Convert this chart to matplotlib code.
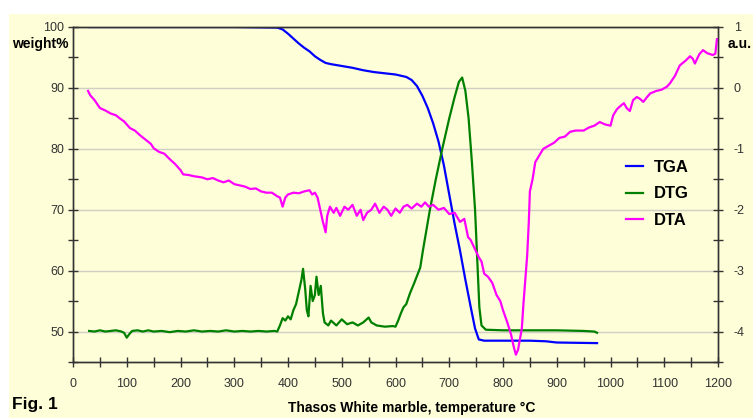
import matplotlib.pyplot as plt
from matplotlib.patches import Rectangle
from matplotlib.ticker import MultipleLocator

# TGA (weight %)
tga_temp = [30, 100, 200, 300, 380, 390, 400, 410, 420, 430, 440, 450, 460, 470, 480,
            500, 520, 540, 560, 580, 600, 610, 620, 630, 640, 650, 660, 670, 680, 690,
            700, 710, 720, 730, 740, 748, 755, 765, 800, 850, 880, 900, 975]
tga_weight = [100, 100, 100, 100, 99.9, 99.6, 98.9, 98.1, 97.3, 96.6, 96.0, 95.2, 94.6, 94.1, 93.9,
              93.6, 93.3, 92.9, 92.6, 92.4, 92.2, 92.0, 91.8, 91.3, 90.3, 88.7, 86.7, 84.2, 81.2, 77.3,
              72.5, 67.7, 63.3, 58.5, 54.0, 50.5, 48.7, 48.5, 48.5, 48.5, 48.4, 48.2, 48.1]

# DTG, drawn on the weight axis
dtg_temp = [30, 40, 50, 60, 70, 80, 90, 95, 100, 105, 110, 120, 130, 140, 150, 165, 180, 195, 210,
            225, 240, 255, 270, 285, 300, 315, 330, 345, 360, 375, 380, 385, 390, 395, 400, 405,
            410, 415, 420, 425, 428, 432, 435, 438, 442, 446, 450, 453, 457, 461, 465, 468, 475,
            480, 490, 500, 510, 520, 530, 540, 550, 555, 565, 580, 595, 600, 605, 610, 615, 620,
            627, 635, 646, 651, 664, 675, 687, 700, 710, 718, 724, 730, 736, 742, 748, 752, 756,
            760, 768, 800, 850, 900, 950, 970, 975]
dtg_value = [50.1, 50.0, 50.2, 50.0, 50.1, 50.2, 50.0, 49.8, 49.0, 49.6, 50.1, 50.2, 50.0, 50.2,
             50.0, 50.1, 49.9, 50.1, 50.0, 50.2, 50.0, 50.1, 50.0, 50.2, 50.0, 50.1, 50.0, 50.1,
             50.0, 50.1, 50.0, 51.0, 52.2, 51.8, 52.5, 52.0, 53.5, 54.5, 56.5, 58.5, 60.3, 57.0,
             53.5, 52.5, 57.5, 55.0, 56.0, 59.0, 56.0, 57.5, 53.0, 51.5, 51.0, 51.8, 51.0, 52.0,
             51.2, 51.5, 51.0, 51.5, 52.3, 51.5, 51.0, 50.8, 50.9, 50.8, 51.8, 53.0, 54.0, 54.5,
             56.3, 58.0, 60.5, 63.3, 70.0, 75.0, 80.0, 85.0, 88.5, 91.0, 91.7, 89.5, 85.0, 78.0,
             70.0, 62.0, 54.0, 51.0, 50.3, 50.2, 50.2, 50.2, 50.1, 50.0, 49.8]

# DTA (a.u.), right axis
dta_temp = [28, 32, 40, 50, 60, 70, 80, 87, 95, 106, 115, 125, 135, 145, 150, 160, 170, 180, 190,
            200, 205, 215, 225, 240, 250, 260, 270, 280, 290, 300, 310, 320, 330, 340, 350, 360,
            370, 380, 385, 390, 395, 400, 410, 420, 430, 440, 445, 450, 455, 460, 465, 470, 473,
            478, 485, 490, 497, 505, 512, 520, 528, 535, 540, 547, 555, 562, 570, 578, 585, 592,
            600, 608, 615, 622, 630, 640, 648, 655, 662, 670, 680, 690, 700, 710, 720, 728, 735,
            740, 748, 755, 760, 765, 772, 780, 788, 795, 800, 808, 815, 820, 824, 828, 832, 835,
            838, 842, 845, 848, 850, 855, 860, 868, 875, 885, 895, 905, 915, 925, 935, 950, 960,
            970, 980, 990, 1000, 1005, 1012, 1018, 1025, 1030, 1036, 1042, 1049, 1055, 1061,
            1068, 1074, 1085, 1095, 1105, 1111, 1120, 1129, 1140, 1148, 1153, 1157, 1165, 1172,
            1180, 1190, 1195, 1198]
dta_value = [-0.05, -0.12, -0.2, -0.33, -0.37, -0.42, -0.45, -0.5, -0.55, -0.66, -0.7, -0.78,
             -0.85, -0.92, -0.99, -1.05, -1.08, -1.17, -1.25, -1.35, -1.42, -1.43, -1.45, -1.47,
             -1.5, -1.48, -1.52, -1.55, -1.52, -1.58, -1.6, -1.62, -1.66, -1.65, -1.7, -1.72,
             -1.72, -1.78, -1.8, -1.95, -1.8, -1.75, -1.72, -1.73, -1.7, -1.68, -1.75, -1.72,
             -1.8, -2.0, -2.2, -2.37, -2.1, -1.95, -2.05, -1.97, -2.1, -1.95, -2.0, -1.92, -2.1,
             -2.0, -2.17, -2.05, -2.0, -1.9, -2.05, -1.95, -2.0, -2.1, -1.98, -2.05, -1.95, -1.92,
             -1.98, -1.9, -1.95, -1.88, -1.95, -1.92, -2.0, -1.97, -2.07, -2.05, -2.2, -2.15,
             -2.45, -2.5, -2.65, -2.78, -2.85, -3.05, -3.1, -3.2, -3.4, -3.5, -3.65, -3.85, -4.05,
             -4.25, -4.38, -4.3, -4.1, -3.95, -3.55, -3.1, -2.75, -2.2, -1.7, -1.5, -1.22, -1.1,
             -1.0, -0.95, -0.9, -0.82, -0.8, -0.72, -0.7, -0.7, -0.65, -0.62, -0.56, -0.6, -0.62,
             -0.45, -0.35, -0.3, -0.25, -0.33, -0.38, -0.2, -0.15, -0.18, -0.23, -0.15, -0.09,
             -0.05, -0.03, 0.02, 0.08, 0.2, 0.37, 0.45, 0.52, 0.48, 0.4, 0.55, 0.62, 0.57, 0.54,
             0.56, 0.8]

bg = "#FEFED8"
plt.rcParams["font.family"] = ["Liberation Sans", "DejaVu Sans"]
plt.rcParams["axes.unicode_minus"] = False

fig = plt.figure(figsize=(7.53, 4.18), dpi=100, facecolor="white")
# yellow panel, white strip on top and left
fig.patches.append(Rectangle((9 / 753, 0), 1, 1 - 14 / 418, transform=fig.transFigure,
                             facecolor=bg, edgecolor="none", zorder=-10))

ax = fig.add_axes([73 / 753, 1 - 362 / 418, (718 - 73) / 753, (362 - 27) / 418])
ax.set_facecolor(bg)
ax2 = ax.twinx()

l1, = ax.plot(tga_temp, tga_weight, color="#0000FF", lw=1.6, label="TGA")
l2, = ax.plot(dtg_temp, dtg_value, color="#008000", lw=1.6, label="DTG")
l3, = ax2.plot(dta_temp, dta_value, color="#FF00FF", lw=1.6, label="DTA")

ax.set_xlim(0, 1200)
ax.set_ylim(45, 100)
ax2.set_ylim(-4.5, 1)

ax.xaxis.set_major_locator(MultipleLocator(100))
ax.xaxis.set_minor_locator(MultipleLocator(50))
ax.yaxis.set_major_locator(MultipleLocator(10))
ax.yaxis.set_minor_locator(MultipleLocator(5))
ax.set_yticks([50, 60, 70, 80, 90, 100])
ax2.yaxis.set_major_locator(MultipleLocator(1))
ax2.yaxis.set_minor_locator(MultipleLocator(0.5))

ax.grid(axis="y", which="major", color="#CFCFC4", lw=1)
ax.set_axisbelow(True)

for a in (ax, ax2):
    for s in a.spines.values():
        s.set_color("#333333")
        s.set_linewidth(1)
ax.tick_params(axis="x", which="both", direction="inout", length=7, width=1, colors="#333333",
               labelsize=9, pad=8)
ax.tick_params(axis="y", which="both", direction="inout", length=7, width=1, colors="#333333",
               labelsize=9, pad=3)
ax2.tick_params(axis="y", which="both", direction="inout", length=7, width=1, colors="#333333",
                labelsize=9, pad=8)

# axis texts
fig.text(12 / 753, 1 - 44 / 418, "weight%", fontsize=10, fontweight="bold", va="center", ha="left")
fig.text(728 / 753, 1 - 44 / 418, "a.u.", fontsize=10, fontweight="bold", va="center", ha="left")
fig.text(12 / 753, 1 - 405 / 418, "Fig. 1", fontsize=12.5, fontweight="bold", va="center", ha="left")
fig.text(412 / 753, 1 - 408 / 418, "Thasos White marble, temperature \u00b0C", fontsize=10,
         fontweight="bold", va="center", ha="center")

leg = ax2.legend(handles=[l1, l2, l3], loc="upper left", bbox_to_anchor=(626 / 753, 1 - 160 / 418),
                 bbox_transform=fig.transFigure, frameon=False, prop={"weight": "bold", "size": 12},
                 handlelength=1.0, handletextpad=0.7, labelspacing=0.68, borderpad=0, borderaxespad=0)

fig.savefig("out.png", dpi=100, facecolor=fig.get_facecolor())
